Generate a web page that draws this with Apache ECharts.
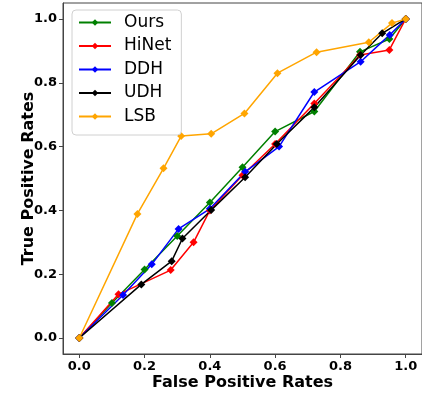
<!DOCTYPE html>
<html>
<head>
<meta charset="utf-8">
<script src="https://cdn.jsdelivr.net/npm/echarts@6/dist/echarts.min.js"></script>
<style>html,body{margin:0;padding:0;background:#fff}#c{width:422px;height:393px}</style>
</head>
<body>
<div id="c"></div>
<script>
const seriesNames = ['Ours', 'HiNet', 'DDH', 'UDH', 'LSB'];
const oursX  = [0, 0.10, 0.20, 0.30, 0.40, 0.50, 0.60, 0.72, 0.86, 0.95, 1.0];
const oursY  = [0, 0.11, 0.215, 0.32, 0.425, 0.535, 0.647, 0.71, 0.897, 0.937, 1.0];
const hinetX = [0, 0.12, 0.28, 0.35, 0.40, 0.50, 0.60, 0.72, 0.86, 0.95, 1.0];
const hinetY = [0, 0.137, 0.213, 0.30, 0.40, 0.51, 0.608, 0.735, 0.887, 0.903, 1.0];
const ddhX   = [0, 0.134, 0.222, 0.304, 0.40, 0.508, 0.612, 0.72, 0.862, 0.951, 1.0];
const ddhY   = [0, 0.135, 0.231, 0.342, 0.405, 0.521, 0.60, 0.771, 0.866, 0.95, 1.0];
const udhX   = [0, 0.19, 0.283, 0.316, 0.404, 0.508, 0.605, 0.72, 0.862, 0.928, 1.0];
const udhY   = [0, 0.168, 0.241, 0.312, 0.401, 0.504, 0.608, 0.723, 0.887, 0.955, 1.0];
const lsbX   = [0, 0.178, 0.258, 0.312, 0.404, 0.506, 0.607, 0.727, 0.887, 0.958, 1.0];
const lsbY   = [0, 0.389, 0.532, 0.633, 0.64, 0.704, 0.83, 0.896, 0.927, 0.987, 1.0];
const tickValues = [0, 0.2, 0.4, 0.6, 0.8, 1.0];
const colors = ['#008000', '#ff0000', '#0000ff', '#000000', '#ffa500'];

const xs = [oursX, hinetX, ddhX, udhX, lsbX];
const ys = [oursY, hinetY, ddhY, udhY, lsbY];
const FONT = 'DejaVu Sans';

const chart = echarts.init(document.getElementById('c'), null, {renderer: 'canvas'});
const axisCommon = {
  type: 'value', min: -0.05, max: 1.05,
  axisLine: {show: true, onZero: false, lineStyle: {color: '#444', width: 1}},
  axisTick: {show: true, customValues: tickValues, length: 4, lineStyle: {color: '#444'}},
  axisLabel: {customValues: tickValues, formatter: v => v.toFixed(1), fontFamily: FONT, fontWeight: 'bold', fontSize: 13, color: '#000', margin: 6},
  splitLine: {show: false},
  nameLocation: 'middle',
  nameMoveOverlap: false,
  nameTextStyle: {fontFamily: FONT, fontWeight: 'bold', fontSize: 16, color: '#000'}
};
chart.setOption({
  animation: false,
  textStyle: {fontFamily: FONT},
  grid: {left: 63, top: 3, right: 0, bottom: 39, outerBoundsMode: 'none', containLabel: false, show: true, borderColor: '#444', borderWidth: 1, backgroundColor: 'transparent'},
  xAxis: Object.assign({}, axisCommon, {name: 'False Positive Rates', nameGap: 21}),
  yAxis: Object.assign({}, axisCommon, {name: 'True Positive Rates', nameGap: 26}),
  legend: {
    orient: 'vertical', left: 72, top: 10,
    data: seriesNames,
    itemWidth: 32, itemHeight: 8, itemGap: 6.5,
    padding: [4, 10, 10, 6],
    borderColor: '#d0d0d0', borderWidth: 1, borderRadius: 4,
    backgroundColor: 'rgba(255,255,255,0.85)',
    textStyle: {fontFamily: FONT, fontSize: 17, color: '#000', padding: [0, 0, 0, 8]}
  },
  series: seriesNames.map((n, i) => ({
    name: n, type: 'line',
    data: xs[i].map((x, j) => [x, ys[i][j]]),
    symbol: 'diamond', symbolSize: 8,
    lineStyle: {color: colors[i], width: 1.5},
    itemStyle: {color: colors[i]},
    emphasis: {disabled: true}
  }))
});
</script>
</body>
</html>
